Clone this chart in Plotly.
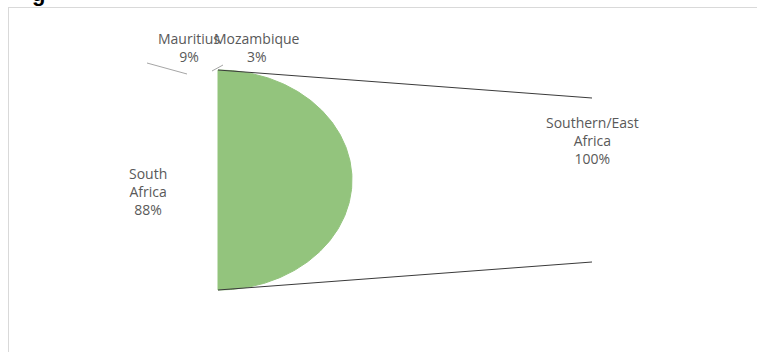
import numpy as np
import plotly.graph_objects as go

# ---- data ----
categories = ["South Africa", "Mauritius", "Mozambique"]
category_text = ["South<br>Africa", "Mauritius", "Mozambique"]
shares = [88, 9, 3]
total_label = "Southern/East<br>Africa"
total_share = 100

# ---- geometry (pixel space, y down) ----
W, H = 757, 352
cx, cy = 218, 180          # flat edge centre of visible slice
rx, ry = 134, 110          # semi axes
bar_x = 592                # end of connector lines
con_top, con_bot = 98, 262

GREEN = "#93C47D"
TXT = "#595959"
FONT = "Open Sans"
FS = 14

fig = go.Figure()

# visible slice (South Africa) as half ellipse
t = np.linspace(-np.pi / 2, np.pi / 2, 200)
xs = np.concatenate([[cx], cx + rx * np.cos(t), [cx]])
ys = np.concatenate([[cy - ry], cy + ry * np.sin(t), [cy - ry]])
fig.add_trace(go.Scatter(x=xs, y=ys, mode="lines", fill="toself",
                         fillcolor=GREEN, line=dict(color=GREEN, width=1),
                         hoverinfo="skip", showlegend=False))

# connector lines
fig.add_trace(go.Scatter(x=[cx, bar_x], y=[cy - ry, con_top], mode="lines",
                         line=dict(color="#3a3a3a", width=1), showlegend=False))
fig.add_trace(go.Scatter(x=[cx, bar_x], y=[cy + ry, con_bot], mode="lines",
                         line=dict(color="#3a3a3a", width=1), showlegend=False))

# leader lines for small slices
fig.add_trace(go.Scatter(x=[147, 187], y=[63, 74], mode="lines",
                         line=dict(color="#a6a6a6", width=1), showlegend=False))
fig.add_trace(go.Scatter(x=[212, 223], y=[71, 65], mode="lines",
                         line=dict(color="#a6a6a6", width=1), showlegend=False))

# labels
label_pos = {"South Africa": (148, 191), "Mauritius": (189, 47), "Mozambique": (257, 47)}
for name, txt, v in zip(categories, category_text, shares):
    x, y = label_pos[name]
    fig.add_annotation(x=x, y=y, text=f"{txt}<br>{v}%", showarrow=False,
                       font=dict(family=FONT, size=FS, color=TXT),
                       xanchor="center", yanchor="middle", align="center")
fig.add_annotation(x=592, y=140, text=f"{total_label}<br>{total_share}%",
                   showarrow=False, font=dict(family=FONT, size=FS, color=TXT),
                   xanchor="center", yanchor="middle", align="center")

# clipped heading fragment (paper referenced so it can sit above the plot)
fig.add_annotation(x=38 / W, y=1 + 6 / H, xref="paper", yref="paper",
                   text="<b>g</b>", showarrow=False,
                   font=dict(family="Liberation Sans", size=22, color="black"),
                   xanchor="center", yanchor="middle")

# chart frame
fig.add_shape(type="line", x0=8, x1=W, y0=7.5, y1=7.5, line=dict(color="#d9d9d9", width=1))
fig.add_shape(type="line", x0=8.5, x1=8.5, y0=7, y1=H, line=dict(color="#d9d9d9", width=1))

fig.update_xaxes(range=[0, W], visible=False, fixedrange=True)
fig.update_yaxes(range=[H, 0], visible=False, fixedrange=True)
fig.update_layout(width=W, height=H, margin=dict(l=0, r=0, t=0, b=0),
                  plot_bgcolor="white", paper_bgcolor="white", showlegend=False)

fig.write_html("out.html", config={"displayModeBar": False},
               post_script="document.body.style.margin='0';document.body.style.overflow='hidden';")
